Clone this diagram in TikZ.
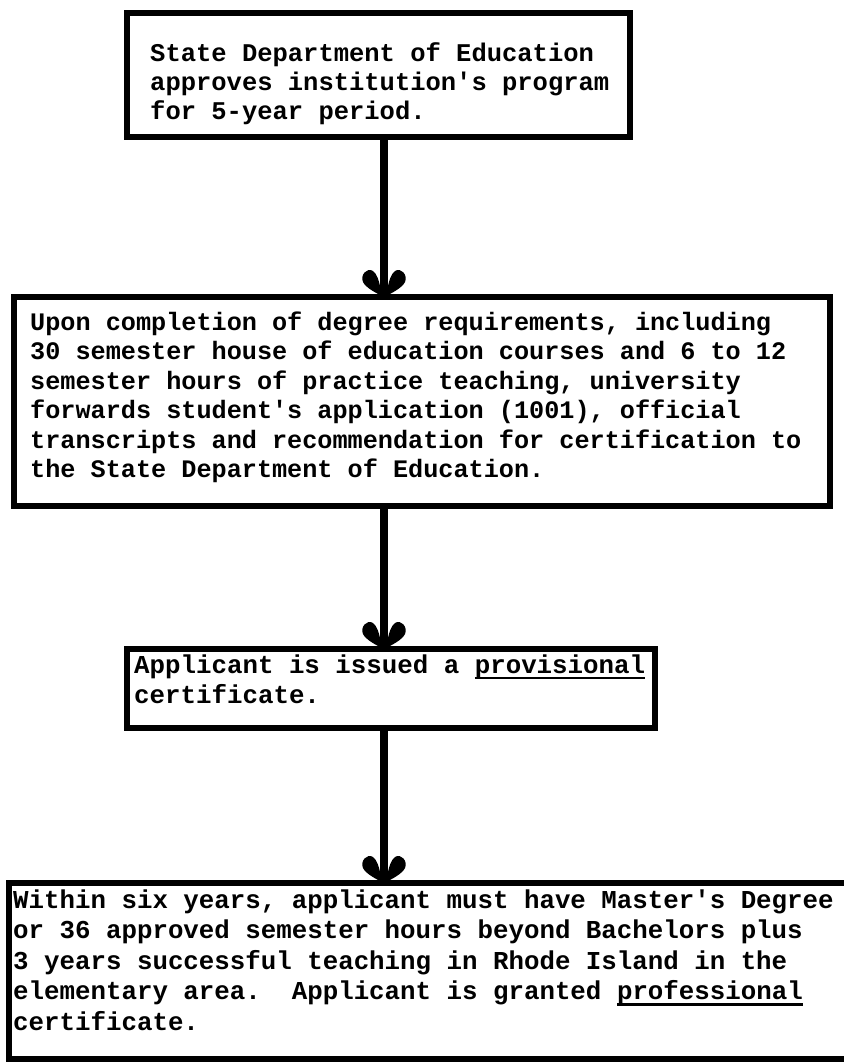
\documentclass[tikz,border=0pt]{standalone}
\usepackage{fontspec}
\newfontfamily\tw{Liberation Mono}
\newcommand\tul[1]{\setbox0=\hbox{#1}\rlap{\rule[-6pt]{\wd0}{2.5pt}}\box0}
\frenchspacing
\begin{document}
\begin{tikzpicture}[x=1pt,y=-1pt,
  boxst/.style={draw=black, line width=6pt, inner sep=0pt, outer sep=0pt, rectangle},
  txt/.style 2 args={anchor=base west, inner sep=0pt, align=left,
    font=\tw\bfseries\fontsize{#1}{#2}\selectfont},
  shaft/.style={line width=8pt},
  lobehead/.pic={\fill (0,0) .. controls (-8,-4) and (-18,-9) .. (-21,-15)
      .. controls (-24,-22) and (-17,-30) .. (-11,-26)
      .. controls (-7,-23) and (-5,-16) .. (-4,-11) -- (4,-11)
      .. controls (5,-16) and (7,-23) .. (11,-26)
      .. controls (17,-30) and (24,-22) .. (21,-15)
      .. controls (18,-9) and (8,-4) .. (0,0) -- cycle;}
]
\fill[white] (0,0) rectangle (843,1064);
\useasboundingbox (0,0) rectangle (843,1064);

% boxes
\node[boxst, minimum width=503pt, minimum height=124pt] (b1) at (378.5,75) {};
\node[boxst, minimum width=816pt, minimum height=209pt] (b2) at (422,401.5) {};
\node[boxst, minimum width=528pt, minimum height=79pt] (b3) at (391,688.5) {};
\node[boxst, minimum width=838pt, minimum height=176pt] (b4) at (428,971) {};

% texts (anchored at the baseline of the last line)
\node[txt={25.5pt}{29pt}] (t1) at (150,120) {State Department of Education\\approves institution's program\\for 5-year period.};
\node[txt={25.2pt}{29.5pt}] (t2) at (30,477.5) {Upon completion of degree requirements, including\\30 semester house of education courses and 6 to 12\\semester hours of practice teaching, university\\forwards student's application (1001), official\\transcripts and recommendation for certification to\\the State Department of Education.};
\node[txt={25.8pt}{30pt}] (t3) at (134,703) {Applicant is issued a \tul{provisional}\\certificate.};
\node[txt={25.8pt}{30.5pt}] (t4) at (13,1030) {Within six years, applicant must have Master's Degree\\or 36 approved semester hours beyond Bachelors plus\\3 years successful teaching in Rhode Island in the\\elementary area.\ \ Applicant is granted \tul{professional}\\certificate.};

% connectors
\coordinate (ax) at (384,0);
\draw[shaft] (b1.south -| ax) -- (b2.north -| ax);
\pic at (b2.north -| ax) {lobehead};
\draw[shaft] (b2.south -| ax) -- (b3.north -| ax);
\pic at (b3.north -| ax) {lobehead};
\draw[shaft] (b3.south -| ax) -- (b4.north -| ax);
\pic at (b4.north -| ax) {lobehead};
\end{tikzpicture}
\end{document}
